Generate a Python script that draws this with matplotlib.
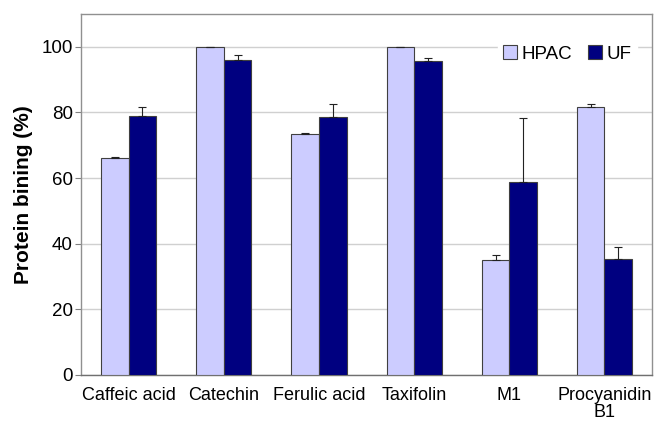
import matplotlib
matplotlib.use("Agg")
import matplotlib.pyplot as plt
import numpy as np

categories = ["Caffeic acid", "Catechin", "Ferulic acid", "Taxifolin", "M1", "Procyanidin\nB1"]
hpac = [66.0, 100.0, 73.5, 100.0, 35.0, 81.6]
hpac_err = [0.3, 0.0, 0.3, 0.0, 1.6, 1.1]
uf = [79.0, 95.9, 78.5, 95.6, 58.9, 35.4]
uf_err = [2.5, 1.5, 4.0, 1.0, 19.5, 3.7]
yticks = [0, 20, 40, 60, 80, 100]

plt.rcParams['font.family'] = ['Liberation Sans', 'DejaVu Sans']

fig = plt.figure(figsize=(6.62, 4.23), dpi=100)
ax = fig.add_axes([0.1224, 0.1135, 0.8626, 0.8535])

x = np.arange(len(categories))
w = 0.29
ekw = dict(ecolor="#222222", elinewidth=0.8, capsize=3.2, capthick=0.8)
ax.bar(x - w/2, hpac, w, color="#CCCCFF", edgecolor="#404040", linewidth=0.8,
       label="HPAC", zorder=3,
       yerr=[np.zeros(len(hpac)), hpac_err], error_kw=ekw)
ax.bar(x + w/2, uf, w, color="#000080", edgecolor="#404040", linewidth=0.8,
       label="UF", zorder=3,
       yerr=[np.zeros(len(uf)), uf_err], error_kw=ekw)

ax.set_xlim(-0.5, len(categories) - 0.5)
ax.set_ylim(0, 110)
ax.set_yticks(yticks)
ax.set_xticks(x)
ax.set_xticklabels(categories, fontsize=13, linespacing=1.0)
ax.tick_params(axis='y', labelsize=13.5, length=4, color="#808080", direction='out', pad=2)
ax.tick_params(axis='x', length=0, pad=9)
ax.yaxis.grid(True, color="#d0d0d0", linewidth=1, zorder=0)
ax.set_axisbelow(True)
for s in ax.spines.values():
    s.set_color("#909090")
    s.set_linewidth(1)
ax.spines['bottom'].set_color("#707070")
ax.set_ylabel("Protein bining (%)", fontsize=15, fontweight='bold', labelpad=6)

leg = ax.legend(loc='upper right', bbox_to_anchor=(0.99, 0.955), ncol=2, frameon=True,
                fontsize=13.5, handlelength=0.75, handleheight=0.75, handletextpad=0.25,
                columnspacing=0.8, borderpad=0.3, fancybox=False)
leg.get_frame().set_edgecolor("white")
leg.get_frame().set_facecolor("white")
leg.get_frame().set_alpha(1)

fig.savefig("out.png", dpi=100)
